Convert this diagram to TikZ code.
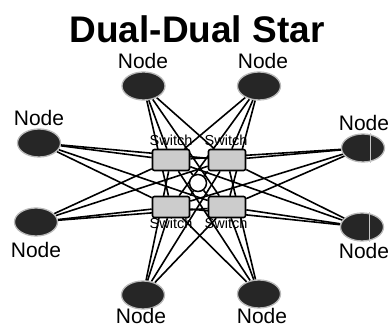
\documentclass[tikz,border=0pt]{standalone}
\usepackage{fontspec}
\setmainfont{Liberation Sans}
\usetikzlibrary{shapes.geometric}
\pgfdeclarelayer{bg}
\pgfsetlayers{bg,main}
\begin{document}
\begin{tikzpicture}[x=1pt,y=-1pt,
  host/.style={ellipse, draw=gray!55, line width=1.3pt, fill=black!85,
    minimum width=43pt, minimum height=28pt, inner sep=0pt},
  switchbox/.style={rectangle, rounded corners=2pt, draw=black, line width=1.6pt,
    fill=gray!40, minimum width=37pt, minimum height=21pt, inner sep=0pt},
  hub/.style={circle, draw=black, line width=1.5pt, fill=white,
    minimum size=17pt, inner sep=0pt},
  link/.style={line width=1.6pt, black},
  stripe/.style={gray!45, line width=1pt},
  lbl/.style={font=\fontsize{21}{21}\selectfont, inner sep=0pt},
  swlbl/.style={font=\fontsize{14.5}{14.5}\selectfont, inner sep=0pt},
  ttl/.style={font=\fontsize{37}{37}\selectfont\bfseries, inner sep=0pt}]
\useasboundingbox (0,0) rectangle (392,328);

% title
\node[ttl] (title) at (197,29) {Dual-Dual Star};

% switches and the central hub
\node[switchbox] (sTL) at (171,160) {};
\node[switchbox] (sTR) at (227,160) {};
\node[switchbox] (sBL) at (171,207) {};
\node[switchbox] (sBR) at (227,207) {};
\node[hub] (hub) at (198,183) {};

% end stations
\node[host] (nTL) at (143.5,86) {};
\node[host] (nTR) at (259,86) {};
\node[host] (nLU) at (39,143) {};
\node[host] (nLL) at (36,222) {};
\node[host] (nRU) at (363,148) {};
\node[host] (nRL) at (362,227) {};
\node[host] (nBL) at (143,295) {};
\node[host] (nBR) at (259,294) {};
\draw[stripe] ([xshift=7pt]nRU.north) -- ([xshift=7pt]nRU.south);
\draw[stripe] ([xshift=7pt]nRL.north) -- ([xshift=7pt]nRL.south);

% every station is wired to all four switches
\begin{pgfonlayer}{bg}
\foreach \n in {nTL,nTR,nLU,nLL,nRU,nRL,nBL,nBR}
  \foreach \s in {sTL,sTR,sBL,sBR}
    \draw[link] (\n) -- (\s);
\draw[link] (hub) -- (sTL.south east);
\draw[link] (hub) -- (sTR.south west);
\draw[link] (hub) -- (sBL.north east);
\draw[link] (hub) -- (sBR.north west);
\end{pgfonlayer}

% labels
\node[lbl] (lTL) at (143,61) {Node};
\node[lbl] (lTR) at (263,61) {Node};
\node[lbl] (lLU) at (39,118) {Node};
\node[lbl] (lLL) at (36,250) {Node};
\node[lbl] (lRU) at (364,123) {Node};
\node[lbl] (lRL) at (364,251) {Node};
\node[lbl] (lBL) at (141,316) {Node};
\node[lbl] (lBR) at (262,316) {Node};
\node[swlbl] (wTL) at (171,140) {Switch};
\node[swlbl] (wTR) at (226,140) {Switch};
\node[swlbl] (wBL) at (171,223) {Switch};
\node[swlbl] (wBR) at (226,223) {Switch};
\end{tikzpicture}
\end{document}
